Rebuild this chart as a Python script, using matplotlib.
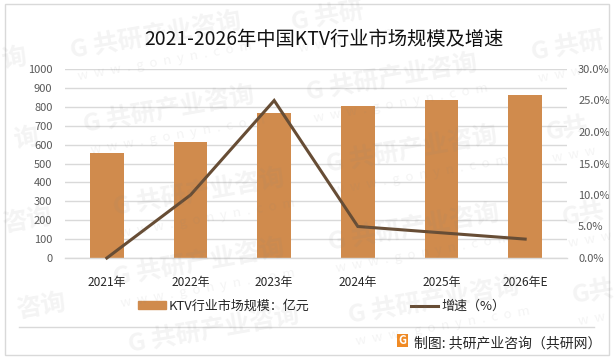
import matplotlib
matplotlib.use("Agg")
import matplotlib.pyplot as plt
from matplotlib.patches import Rectangle, FancyBboxPatch
from matplotlib.lines import Line2D

plt.rcParams['font.family'] = ['Noto Sans CJK SC', 'DejaVu Sans']

years = ['2021年', '2022年', '2023年', '2024年', '2025年', '2026年E']
market_size = [555, 614, 767, 804, 836, 862]
growth = [0.0, 10.0, 25.0, 5.0, 4.0, 3.0]
left_ticks = [0, 100, 200, 300, 400, 500, 600, 700, 800, 900, 1000]
right_ticks = [0, 5, 10, 15, 20, 25, 30]
title = '2021-2026年中国KTV行业市场规模及增速'
bar_label = 'KTV行业市场规模：亿元'
line_label = '增速（%）'
source = '制图: 共研产业咨询（共研网）'
wm_cn = 'G 共研产业咨询'
wm_en = 'w  w  w  .  g  o  n  y  n  .  c  o  m'

W, H = 615, 361
BAR = '#D08B4D'
LINE = '#674D35'
GRID = '#D9D9D9'

def fx(x): return x / W
def fy(y): return 1 - y / H

fig = plt.figure(figsize=(W / 100, H / 100), dpi=100, facecolor='white')
fig.add_artist(Rectangle((fx(4.5), fy(355)), fx(604.5), (351.5) / H, transform=fig.transFigure,
                         fill=False, ec=GRID, lw=1))

ax = fig.add_axes([fx(65), fy(258), 502 / W, 189 / H])
ax.patch.set_alpha(0)
xs = list(range(len(years)))
ax.bar(xs, market_size, width=0.4, color=BAR, zorder=2)
ax.set_xlim(-0.5, 5.5)
ax.set_ylim(0, 1000)
ax.set_yticks(left_ticks)
ax.set_xticks(xs)
ax.set_xticklabels(years, fontsize=8.6, color='#262626')
ax.tick_params(axis='x', length=0, pad=13)
ax.tick_params(axis='y', length=0, pad=9, labelsize=8, labelcolor='#595959')
ax.grid(axis='y', color=GRID, lw=1, zorder=1)
ax.set_axisbelow(True)
for s in ['top', 'left', 'right']:
    ax.spines[s].set_visible(False)
ax.spines['bottom'].set_color(GRID)
ax.spines['bottom'].set_linewidth(1)

ax2 = ax.twinx()
ax2.plot(xs, growth, color=LINE, lw=2.2, zorder=3, clip_on=False, solid_joinstyle='miter')
ax2.set_ylim(0, 30)
ax2.set_yticks(right_ticks)
ax2.set_yticklabels([f'{t:.1f}%' for t in right_ticks])
ax2.tick_params(axis='y', length=0, pad=8, labelsize=8, labelcolor='#595959')
for s in ['top', 'left', 'right', 'bottom']:
    ax2.spines[s].set_visible(False)

fig.text(fx(324), fy(39), title, fontsize=13.9, color='#111111', ha='center', va='center')

handles = [Rectangle((0, 0), 1, 1, color=BAR), Line2D([0], [0], color=LINE, lw=2.2)]
fig.legend(handles, [bar_label, line_label], loc='center', bbox_to_anchor=(fx(322), fy(306.5)),
           ncol=2, frameon=False, fontsize=9.4, handlelength=2.1, handleheight=0.55,
           handletextpad=0.25, columnspacing=7.75, labelcolor='#262626')

fig.add_artist(Line2D([fx(19), fx(594)], [fy(327), fy(327)], color=GRID, lw=1))

fig.add_artist(FancyBboxPatch((fx(397), fy(347)), 11 / W, 13 / H, boxstyle='square,pad=0',
                              transform=fig.transFigure, fc='#F08A24', ec='none'))
fig.text(fx(402.5), fy(340.5), 'G', fontsize=8, fontweight='bold', color='white', ha='center', va='center')
fig.text(fx(414), fy(343), source, fontsize=10, color='#262626', ha='left', va='center')

# Watermark pieces: pixel anchor of the Chinese line, its text, then the web address below it
marks = [
    (72, 58, wm_cn, wm_en), (293, 30, 'G 共研', 'w  w  w  .  g  o  n'), (533, 60, 'G 共研', 'w  w  w'),
    (85, 132, wm_cn, wm_en), (308, 100, wm_cn, wm_en), (547, 140, 'G共', 'w  w  w'),
    (115, 215, wm_cn, wm_en), (328, 172, wm_cn, wm_en), (563, 225, 'G共', 'w  w  w'),
    (115, 285, wm_cn, wm_en), (330, 250, wm_cn, wm_en), (573, 303, 'G共', 'w  w'),
    (130, 352, wm_cn, ''), (350, 323, wm_cn, wm_en),
    (3, 68, '询', ''), (15, 148, '询', ''), (4, 232, '咨询', ''), (18, 318, '咨询', ''),
]
for (x, y, cn, en) in marks:
    fig.text(fx(x), fy(y), cn, fontsize=18, fontweight='bold', color='#808080', alpha=0.09,
             rotation=10, rotation_mode='anchor', ha='left', va='baseline', zorder=10)
    if en:
        fig.text(fx(x + 6), fy(y + 22), en, fontsize=9.5, color='#808080', alpha=0.09,
                 rotation=10, rotation_mode='anchor', ha='left', va='baseline', zorder=10)

fig.savefig('out.png', dpi=100)
